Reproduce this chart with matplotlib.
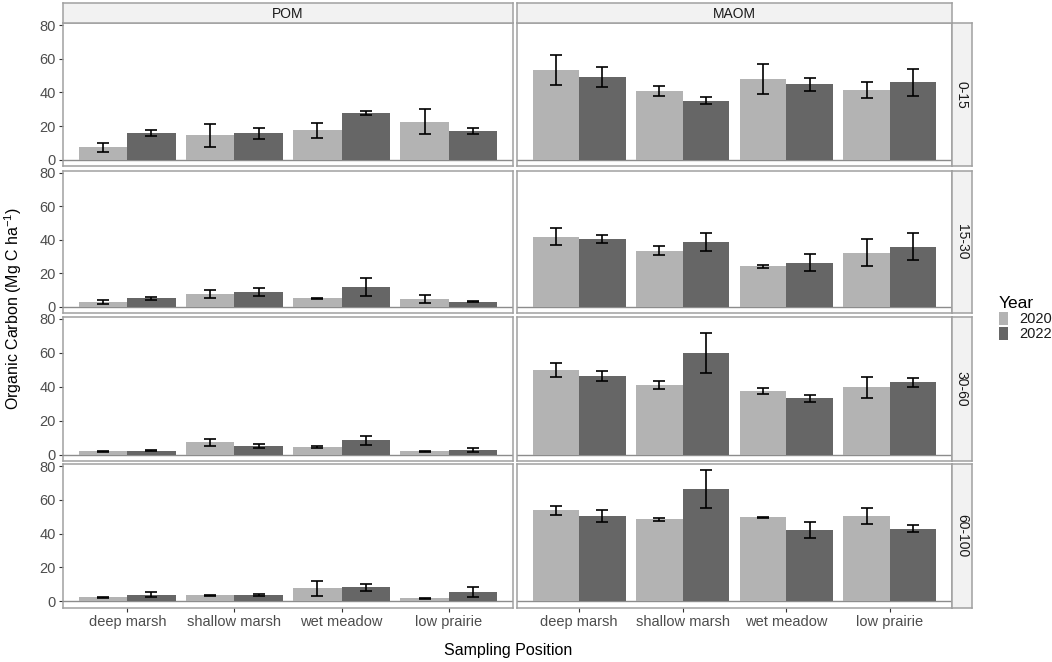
import matplotlib
matplotlib.use("Agg")
import matplotlib.pyplot as plt
import numpy as np

plt.rcParams['font.family'] = ['Liberation Sans', 'DejaVu Sans']
plt.rcParams['mathtext.default'] = 'regular'

positions = ["deep marsh", "shallow marsh", "wet meadow", "low prairie"]
fractions = ["POM", "MAOM"]
depths = ["0-15", "15-30", "30-60", "60-100"]
years = ["2020", "2022"]

# mean organic carbon, [depth][position]
pom_2020 = [[7.3, 14.4, 17.4, 22.5],
            [3.0, 7.7, 5.0, 4.8],
            [2.0, 7.1, 4.3, 2.0],
            [2.4, 3.6, 7.7, 1.8]]
pom_2022 = [[15.8, 15.6, 27.6, 17.0],
            [5.0, 8.8, 11.7, 3.0],
            [2.3, 4.8, 8.3, 2.8],
            [4.0, 3.6, 8.3, 5.6]]
maom_2020 = [[53.5, 41.1, 48.0, 41.5],
             [41.8, 33.5, 24.0, 32.3],
             [49.8, 41.1, 37.5, 39.5],
             [53.7, 48.6, 49.8, 50.6]]
maom_2022 = [[49.0, 35.2, 44.8, 46.0],
             [40.4, 38.7, 26.3, 35.9],
             [46.4, 59.7, 33.1, 42.6],
             [50.6, 66.4, 42.1, 42.9]]

# standard errors
pom_2020_se = [[2.5, 6.6, 4.6, 7.5],
               [1.2, 2.3, 0.3, 2.4],
               [0.3, 2.1, 0.7, 0.3],
               [0.3, 0.4, 4.3, 0.3]]
pom_2022_se = [[1.7, 3.5, 1.3, 2.0],
               [0.9, 2.5, 5.5, 0.3],
               [0.3, 1.2, 2.8, 1.2],
               [1.4, 0.5, 2.0, 2.8]]
maom_2020_se = [[9.0, 3.0, 9.0, 4.5],
                [5.0, 2.6, 0.8, 8.0],
                [4.2, 2.2, 1.6, 6.0],
                [2.7, 0.9, 0.3, 4.8]]
maom_2022_se = [[5.9, 2.0, 3.9, 7.9],
                [2.6, 5.5, 4.9, 8.1],
                [3.0, 11.9, 2.0, 2.6],
                [3.6, 11.2, 4.5, 2.2]]

means = {"POM": (pom_2020, pom_2022), "MAOM": (maom_2020, maom_2022)}
errs = {"POM": (pom_2020_se, pom_2022_se), "MAOM": (maom_2020_se, maom_2022_se)}
colors = ["#B3B3B3", "#666666"]
border = "#A0A0A0"

W, H = 1052, 662
fig = plt.figure(figsize=(W / 100, H / 100), dpi=100)

col_x = [(63, 513), (517, 952)]
row_y = [(23.3, 166), (170.7, 313), (316.7, 461), (464, 607.7)]


def rect(x0, x1, y0, y1):
    return [x0 / W, 1 - y1 / H, (x1 - x0) / W, (y1 - y0) / H]


x = np.arange(len(positions))
bw = 0.45
handles = []
for j, frac in enumerate(fractions):
    for i, dep in enumerate(depths):
        ax = fig.add_axes(rect(col_x[j][0], col_x[j][1], row_y[i][0], row_y[i][1]))
        for k, yr in enumerate(years):
            xs = x + (k - 0.5) * bw
            b = ax.bar(xs, means[frac][k][i], width=bw, color=colors[k], label=yr, zorder=2)
            ax.errorbar(xs, means[frac][k][i], yerr=errs[frac][k][i], fmt='none',
                        ecolor='black', elinewidth=1.2, capsize=4.2, capthick=1.2, zorder=3)
            if i == 0 and j == 0:
                handles.append(b)
        ax.axhline(0, color='#8C8C8C', lw=1.0, zorder=1)
        ax.set_xlim(-0.6, 3.6)
        ax.set_ylim(-3.8, 81.2)
        ax.set_yticks([0, 20, 40, 60, 80])
        ax.set_xticks(x)
        for s in ax.spines.values():
            s.set_color(border)
            s.set_linewidth(1.1)
        ax.tick_params(colors='#333333', labelcolor='#4D4D4D', labelsize=10.5,
                       length=3, width=0.8, pad=2)
        if j == 0:
            ax.set_yticklabels(["0", "20", "40", "60", "80"])
        else:
            ax.tick_params(axis='y', length=0, labelleft=False)
        if i == len(depths) - 1:
            ax.set_xticklabels(positions)
        else:
            ax.tick_params(axis='x', length=0, labelbottom=False)

        # row strip on the right
        if j == 1:
            sax = fig.add_axes(rect(952, 971.7, row_y[i][0], row_y[i][1]))
            sax.set_facecolor('#F2F2F2')
            sax.set_xticks([])
            sax.set_yticks([])
            for s in sax.spines.values():
                s.set_color(border)
                s.set_linewidth(1.1)
            sax.text(0.5, 0.5, dep, rotation=-90, ha='center', va='center',
                     fontsize=10, color='#1A1A1A', transform=sax.transAxes)

    # column strip on top
    tax = fig.add_axes(rect(col_x[j][0], col_x[j][1], 3, 23.3))
    tax.set_facecolor('#F2F2F2')
    tax.set_xticks([])
    tax.set_yticks([])
    for s in tax.spines.values():
        s.set_color(border)
        s.set_linewidth(1.1)
    tax.text(0.5, 0.48, frac, ha='center', va='center', fontsize=10,
             color='#1A1A1A', transform=tax.transAxes)

fig.text(508 / W, 1 - 650 / H, "Sampling Position", ha='center', va='center', fontsize=11.5)
fig.text(13 / W, 1 - 309 / H, "Organic Carbon (Mg C ha$^{-1}$)", rotation=90,
         ha='center', va='center', fontsize=11.5)

leg = fig.legend(handles, years, title="Year", loc='upper left',
                 bbox_to_anchor=(993 / W, 1 - 290 / H), frameon=False,
                 handlelength=0.6, handleheight=1.0, handletextpad=0.8,
                 labelspacing=0.05, fontsize=10.5, title_fontsize=12.5,
                 alignment='left', borderaxespad=0)
for t in leg.get_texts():
    t.set_color('#1A1A1A')

fig.savefig("out.png", dpi=100)
